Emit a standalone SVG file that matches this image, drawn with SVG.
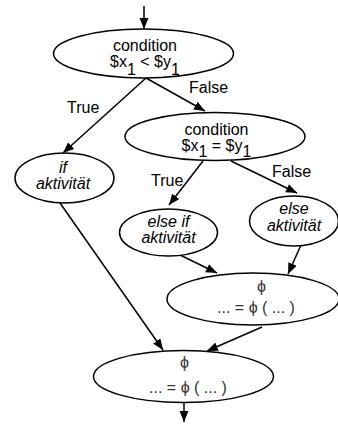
<svg xmlns="http://www.w3.org/2000/svg" width="338" height="425" viewBox="0 0 338 425">
<style>
.n{fill:#fff;stroke:#000;stroke-width:1.5}
.t{font-family:"Liberation Sans",Arial,sans-serif;font-size:16px;fill:#000;text-anchor:middle}
.i{font-style:italic}
.p{fill:#333}
.e{stroke:#000;stroke-width:1.5;fill:none;marker-end:url(#a)}
.l{font-family:"Liberation Sans",Arial,sans-serif;font-size:16px;fill:#000}
</style>
<defs>
<marker id="a" markerUnits="userSpaceOnUse" markerWidth="12" markerHeight="10" refX="11" refY="4.5" orient="auto">
<path d="M0,0 L11,4.5 L0,9 z" fill="#000"/>
</marker>
</defs>
<g id="connectors">
<line class="e" x1="144" y1="6" x2="144" y2="29"/>
<line class="e" x1="146" y1="78" x2="63" y2="153"/>
<line class="e" x1="146" y1="78" x2="205" y2="111"/>
<line class="e" x1="203" y1="161" x2="169" y2="205"/>
<line class="e" x1="231" y1="161" x2="297" y2="193"/>
<line class="e" x1="60" y1="203" x2="163" y2="350"/>
<line class="e" x1="180" y1="255" x2="217" y2="273"/>
<line class="e" x1="301" y1="245" x2="288" y2="274"/>
<line class="e" x1="262" y1="327" x2="207" y2="351"/>
<line class="e" x1="184" y1="403" x2="184" y2="422"/>
<text class="l" x="67" y="113">True</text>
<text class="l" x="189" y="93">False</text>
<text class="l" x="151" y="186">True</text>
<text class="l" x="272" y="176.5">False</text>
</g>
<g id="cond1">
<ellipse class="n" cx="143.5" cy="53.5" rx="90" ry="24.5"/>
<text class="t" x="145" y="50.5">condition</text>
<text class="t" x="145" y="66.5">$x<tspan dy="8">1</tspan><tspan dy="-8"> &lt; $y</tspan><tspan dy="8">1</tspan></text>
</g>
<g id="cond2">
<ellipse class="n" cx="215" cy="136.5" rx="90" ry="24"/>
<text class="t" x="216.5" y="135">condition</text>
<text class="t" x="216.5" y="151">$x<tspan dy="6">1</tspan><tspan dy="-6"> = $y</tspan><tspan dy="6">1</tspan></text>
</g>
<g id="if">
<ellipse class="n" cx="64.5" cy="178" rx="49.5" ry="25"/>
<text class="t i" x="63" y="172.5">if</text>
<text class="t i" x="63" y="189">aktivität</text>
</g>
<g id="elseif">
<ellipse class="n" cx="168.5" cy="232.5" rx="49" ry="23.5"/>
<text class="t i" x="168.5" y="227">else if</text>
<text class="t i" x="168.5" y="243">aktivität</text>
</g>
<g id="else">
<ellipse class="n" cx="294" cy="221" rx="44.5" ry="25"/>
<text class="t i" x="294" y="214">else</text>
<text class="t i" x="294" y="230.5">aktivität</text>
</g>
<g id="phi1">
<ellipse class="n" cx="253" cy="299" rx="86" ry="26"/>
<text class="t p" x="261.5" y="292">ϕ</text>
<text class="t p" x="256" y="313">... = ϕ ( ... )</text>
</g>
<g id="phi2">
<ellipse class="n" cx="183.5" cy="376.5" rx="90" ry="26"/>
<text class="t p" x="184.5" y="368">ϕ</text>
<text class="t p" x="188" y="393">... = ϕ ( ... )</text>
</g>
</svg>
